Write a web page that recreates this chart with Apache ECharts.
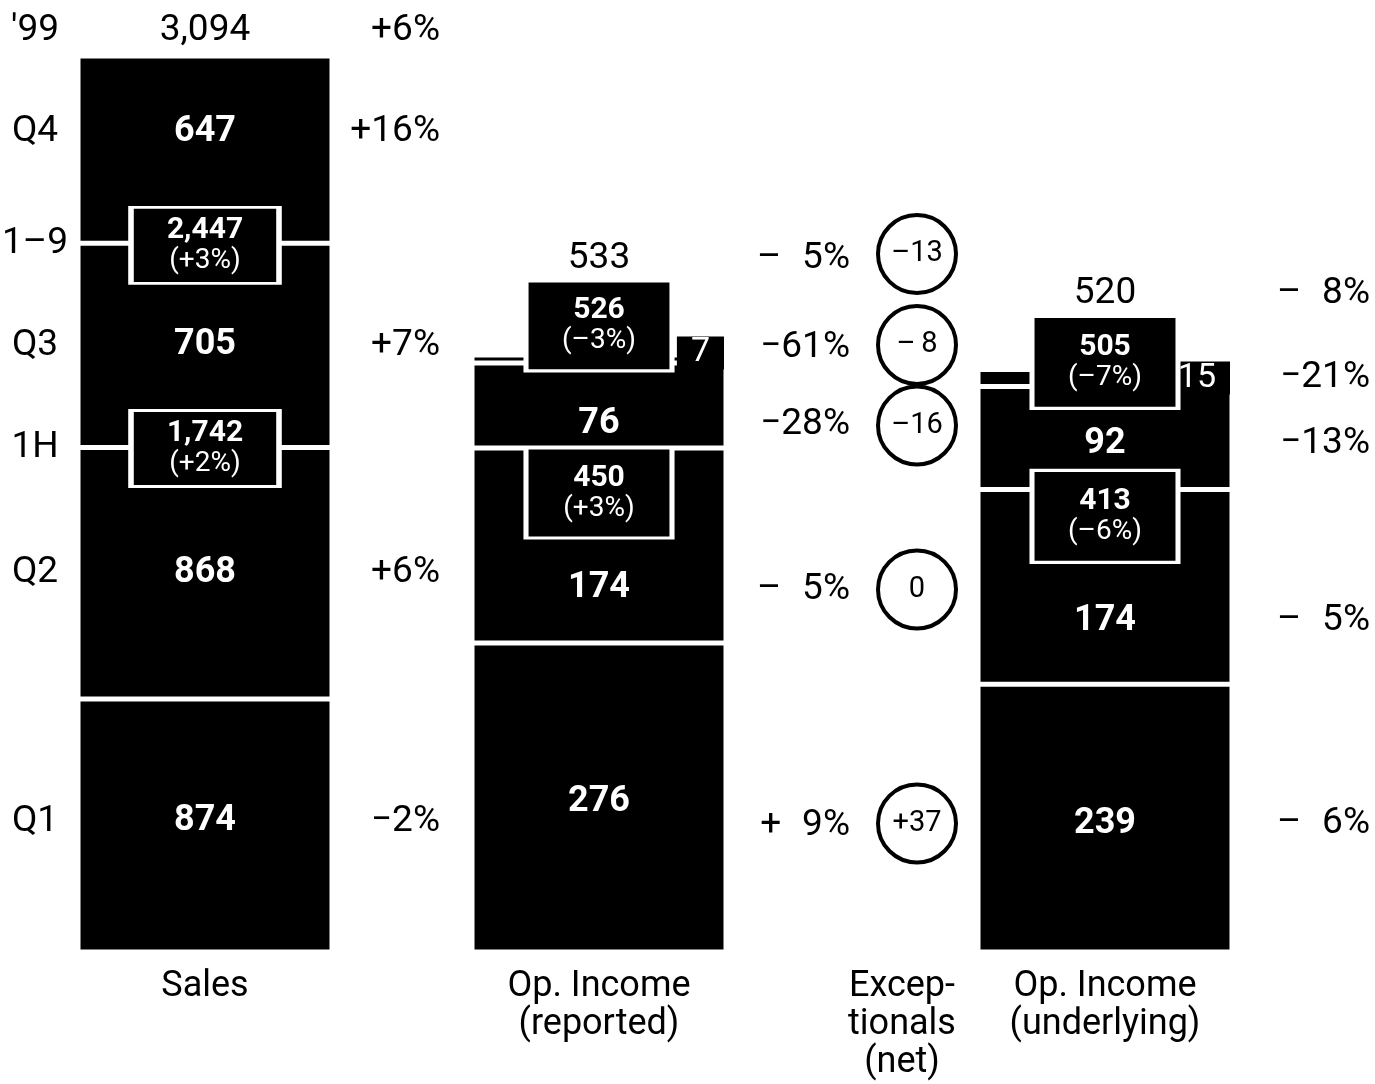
<!DOCTYPE html>
<html>
<head>
<meta charset="utf-8">
<script src="https://cdn.jsdelivr.net/npm/echarts@6/dist/echarts.min.js"></script>
<style>
  html, body { margin: 0; padding: 0; background: #fff; }
  #chart { width: 1375px; height: 1084px; }
</style>
</head>
<body>
<div id="chart"></div>
<script>
// ---- data ---------------------------------------------------------------
const quarters = ['Q1', 'Q2', 'Q3', 'Q4'];
const periodLabels = ['1H', '1–9'];          // cumulative markers after Q2 and Q3
const yearLabel = "'99";
const columnNames = ['Sales', 'Op. Income\n(reported)', 'Excep-\ntionals\n(net)', 'Op. Income\n(underlying)'];

const salesValues = [874, 868, 705, 647];
const salesChange = ['−2%', '+6%', '+7%', '+16%'];
const salesPeriodChange = ['+2%', '+3%'];
const salesYearChange = '+6%';

const reportedValues = [276, 174, 76, 7];
const reportedChange = ['+\u20079%', '–\u20075%', '−28%', '−61%'];
const reportedPeriodChange = ['+3%', '–3%'];
const reportedYearChange = '–\u20075%';

const exceptionalValues = [37, 0, -16, -8];
const exceptionalYear = -13;

const underlyingValues = [239, 174, 92, 15];
const underlyingChange = ['–\u20076%', '–\u20075%', '−13%', '−21%'];
const underlyingPeriodChange = ['–6%', '–7%'];
const underlyingYearChange = '–\u20078%';

// ---- layout -------------------------------------------------------------
const FONT = 'Roboto, "DejaVu Sans Condensed", sans-serif';
const SALES_MAX = 3094;
const INCOME_MAX = 800;

const layout = {
  sales:      { grid: 0, labelX: -170, changeX: 235, rowShift: [-4, 0, 0, -18], valueShift: [-4, 0, 0, -18], yearShift: -25, boxShift: [1, 2], box: [148, 76] },
  reported:   { grid: 1, changeX: 251, rowShift: [28, 44, 19, -11], valueShift: [5, 43, 19, -6], yearShift: -96, boxShift: [45, -37], box: [146, 90] },
  exceptional:{ grid: 2, circleX: 15, rowShift: [26, 44, 20, -14], yearShift: -101 },
  underlying: { grid: 3, changeX: 265, rowShift: [6, 34, 6, 0], valueShift: [6, 34, 6, 0], yearShift: -76, boxShift: [27, -24], box: [146, 92] }
};

// ---- helpers ------------------------------------------------------------
const fmt = v => v.toLocaleString('en-US');
const cumBefore = (vals, i) => vals.slice(0, i).reduce((a, b) => a + b, 0);
const midOf = (vals, i) => cumBefore(vals, i) + vals[i] / 2;
const total = vals => cumBefore(vals, vals.length);
const fmtSigned = v => v === 0 ? '0' : (v > 0 ? '+' : '–') + (Math.abs(v) < 10 ? '\u2009' : '') + Math.abs(v);

const textBase = { fontFamily: FONT, color: '#000', fontSize: 37 };

function stackSeries(cfg, values, tabIndex) {
  return values.map((v, i) => {
    const isTab = i === tabIndex;
    return {
      type: 'bar',
      name: quarters[i],
      xAxisIndex: cfg.grid,
      yAxisIndex: cfg.grid,
      stack: 'col' + cfg.grid,
      barWidth: '100%',
      silent: true,
      z: 2,
      data: [v],
      itemStyle: { color: '#000', borderColor: '#fff', borderWidth: 2.5 },
      label: isTab ? {
        show: true,
        position: 'insideRight',
        distance: 2,
        offset: [0, cfg.valueShift[i]],
        formatter: p => fmt(p.value),
        fontFamily: FONT,
        fontSize: 34,
        color: '#fff',
        backgroundColor: '#000',
        lineHeight: 32,
        padding: [1, 14, 0, 14]
      } : {
        show: true,
        position: 'inside',
        offset: [0, cfg.valueShift[i]],
        formatter: p => fmt(p.value),
        fontFamily: FONT,
        fontSize: 36,
        fontWeight: 'bold',
        color: '#fff'
      }
    };
  });
}

function textSeries(gridIndex, items) {
  return {
    type: 'scatter',
    xAxisIndex: gridIndex,
    yAxisIndex: gridIndex,
    symbolSize: 1,
    itemStyle: { color: 'rgba(0,0,0,0)', opacity: 1 },
    silent: true,
    z: 6,
    data: items.map(it => ({
      value: [0, it.y],
      label: Object.assign({}, textBase, {
        show: true,
        position: 'inside',
        formatter: it.text,
        offset: [it.dx, it.dy],
        align: it.align || 'center',
        verticalAlign: 'middle'
      }, it.style || {})
    }))
  };
}

function boxSeries(cfg, values, changes) {
  return {
    type: 'scatter',
    xAxisIndex: cfg.grid,
    yAxisIndex: cfg.grid,
    symbol: 'rect',
    symbolSize: cfg.box,
    silent: true,
    z: 5,
    itemStyle: { color: '#000', borderColor: '#fff', borderWidth: 4, opacity: 1 },
    label: {
      show: true,
      position: 'inside',
      rich: {
        v: { fontFamily: FONT, fontSize: 30, fontWeight: 'bold', color: '#fff', lineHeight: 31 },
        p: { fontFamily: FONT, fontSize: 28, color: '#fff', lineHeight: 30 }
      }
    },
    data: [2, 3].map((n, k) => {
      const y = cumBefore(values, n);
      return {
        value: [0, y],
        symbolOffset: [0, cfg.boxShift[k]],
        label: { formatter: '{v|' + fmt(y) + '}\n{p|(' + changes[k] + ')}' }
      };
    })
  };
}

function rowItems(cfg, values, changes, yearChange, withQuarterNames) {
  const items = [];
  values.forEach((v, i) => {
    const y = midOf(values, i);
    if (withQuarterNames) items.push({ y, dx: cfg.labelX, dy: cfg.rowShift[i], text: quarters[i] });
    items.push({ y, dx: cfg.changeX, dy: cfg.rowShift[i], text: changes[i], align: 'right' });
  });
  const t = total(values);
  if (withQuarterNames) {
    items.push({ y: t, dx: cfg.labelX, dy: cfg.yearShift, text: yearLabel });
    periodLabels.forEach((lbl, k) => items.push({ y: cumBefore(values, k + 2), dx: cfg.labelX, dy: 0, text: lbl }));
  }
  items.push({ y: t, dx: 0, dy: cfg.yearShift, text: fmt(t) });
  items.push({ y: t, dx: cfg.changeX, dy: cfg.yearShift, text: yearChange, align: 'right' });
  return items;
}

// Exceptionals are drawn as circles on the rows of the reported column.
function circleSeries(cfg) {
  const rows = reportedValues.map((v, i) => ({ y: midOf(reportedValues, i), dy: cfg.rowShift[i], v: exceptionalValues[i] }));
  rows.push({ y: total(reportedValues), dy: cfg.yearShift, v: exceptionalYear });
  return {
    type: 'scatter',
    xAxisIndex: cfg.grid,
    yAxisIndex: cfg.grid,
    symbol: 'circle',
    symbolSize: 78,
    silent: true,
    z: 5,
    itemStyle: { color: '#fff', borderColor: '#000', borderWidth: 4, opacity: 1 },
    label: { show: true, position: 'inside', fontFamily: FONT, fontSize: 29, color: '#000' },
    data: rows.map(r => ({
      value: [0, r.y],
      symbolOffset: [cfg.circleX, r.dy],
      label: { formatter: fmtSigned(r.v) }
    }))
  };
}

// ---- option -------------------------------------------------------------
const grids = [
  { left: 78,  top: 56, width: 254, height: 896 },
  { left: 472, top: 56, width: 254, height: 896 },
  { left: 870, top: 56, width: 64,  height: 896 },
  { left: 978, top: 56, width: 254, height: 896 }
];

const option = {
  animation: false,
  backgroundColor: '#fff',
  grid: grids,
  xAxis: columnNames.map((name, i) => ({
    gridIndex: i,
    type: 'category',
    data: [name],
    axisLine: { show: false },
    axisTick: { show: false },
    splitLine: { show: false },
    axisLabel: { interval: 0, margin: 16, fontFamily: FONT, fontSize: 36, lineHeight: 38, color: '#000' }
  })),
  yAxis: [SALES_MAX, INCOME_MAX, INCOME_MAX, INCOME_MAX].map((max, i) => ({
    gridIndex: i, type: 'value', min: 0, max, show: false
  })),
  series: [
    ...stackSeries(layout.sales, salesValues, -1),
    ...stackSeries(layout.reported, reportedValues, 3),
    ...stackSeries(layout.underlying, underlyingValues, 3),
    boxSeries(layout.sales, salesValues, salesPeriodChange),
    boxSeries(layout.reported, reportedValues, reportedPeriodChange),
    boxSeries(layout.underlying, underlyingValues, underlyingPeriodChange),
    circleSeries(layout.exceptional),
    textSeries(0, rowItems(layout.sales, salesValues, salesChange, salesYearChange, true)),
    textSeries(1, rowItems(layout.reported, reportedValues, reportedChange, reportedYearChange, false)),
    textSeries(3, rowItems(layout.underlying, underlyingValues, underlyingChange, underlyingYearChange, false))
  ]
};

const chart = echarts.init(document.getElementById('chart'), null, { renderer: 'canvas' });
chart.setOption(option);
</script>
</body>
</html>
